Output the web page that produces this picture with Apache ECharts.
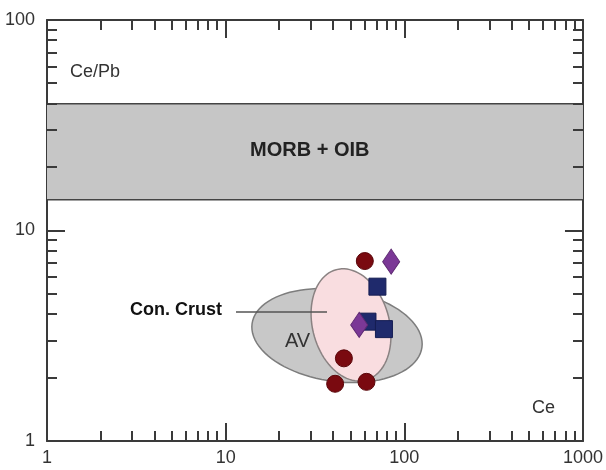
<!DOCTYPE html>
<html>
<head>
<meta charset="utf-8">
<script src="https://cdn.jsdelivr.net/npm/echarts@6/dist/echarts.min.js"></script>
<style>
  html, body { margin: 0; padding: 0; background: #fff; }
  #chart { width: 606px; height: 470px; }
</style>
</head>
<body>
<div id="chart"></div>
<script>
// Ce vs Ce/Pb, both on log scales
const xRange = [1, 1000];
const yRange = [1, 100];

// Sample groups: [Ce, Ce/Pb]
const circleSamples  = [[60.1, 7.16], [45.9, 2.47], [41.0, 1.87], [61.4, 1.91]];
const squareSamples  = [[70.7, 5.41], [62.2, 3.69], [76.9, 3.40]];
const diamondSamples = [[84.4, 7.11], [55.9, 3.56]];

// MORB + OIB field (Ce/Pb range)
const morbOibRange = [14, 40];

// Reference fields: centre [Ce, Ce/Pb]
const avCentre = [42.0, 3.17];
const crustCentre = [50.3, 3.56];

// Minor tick values on each axis
const minorX = [2,3,4,5,6,7,8,9,20,30,40,50,60,70,80,90,200,300,400,500,600,700,800,900];
const minorY = [2,3,4,5,6,7,8,9,20,30,40,50,60,70,80,90];

const FONT = '"Liberation Sans", Arial, Helvetica, sans-serif';
const AXIS_COLOR = '#3a3a3a';

const chart = echarts.init(document.getElementById('chart'), null, { renderer: 'canvas' });

function logAxis(pos, showLabel) {
  const horizontal = pos === 'top' || pos === 'bottom';
  return {
    type: 'log', logBase: 10, position: pos,
    min: horizontal ? xRange[0] : yRange[0],
    max: horizontal ? xRange[1] : yRange[1],
    axisLine: { show: true, onZero: false, lineStyle: { color: AXIS_COLOR, width: 2 } },
    axisTick: { show: true, inside: true, length: 18, lineStyle: { color: AXIS_COLOR, width: 2 } },
    axisLabel: {
      show: showLabel, color: '#333', fontSize: 18, fontFamily: FONT,
      margin: (pos === 'bottom') ? 8 : 12,
      formatter: function (v) { return String(Math.round(v)); }
    },
    splitLine: { show: false },
    minorTick: { show: false }
  };
}

// Ellipse outline in pixel space, semi-axes measured in x-axis decades
function ellipsePoints(api, centre, a, b, angleDeg) {
  const c = api.coord(centre);
  const dec = api.coord([10, 1])[0] - api.coord([1, 1])[0];
  const ra = a * dec, rb = b * dec;
  const phi = angleDeg * Math.PI / 180;
  const pts = [];
  for (let k = 0; k < 90; k++) {
    const t = k / 90 * Math.PI * 2;
    const dx = ra * Math.cos(t), dy = rb * Math.sin(t);
    pts.push([c[0] + dx * Math.cos(phi) - dy * Math.sin(phi),
              c[1] + dx * Math.sin(phi) + dy * Math.cos(phi)]);
  }
  return pts;
}

const option = {
  animation: false,
  backgroundColor: '#fff',
  grid: { left: 47, right: 16, top: 20, bottom: 29, containLabel: false },
  xAxis: [logAxis('bottom', true), logAxis('top', false)],
  yAxis: [logAxis('left', true), logAxis('right', false)],
  series: [
    {
      // MORB + OIB band
      type: 'custom', z: 1, silent: true,
      data: [[morbOibRange[0], morbOibRange[1]]],
      renderItem: function (params, api) {
        const cs = params.coordSys;
        const yTop = api.coord([xRange[0], api.value(1)])[1];
        const yBot = api.coord([xRange[0], api.value(0)])[1];
        return {
          type: 'group',
          children: [
            { type: 'rect', shape: { x: cs.x, y: yTop, width: cs.width, height: yBot - yTop },
              style: { fill: '#c6c6c6' } },
            { type: 'line', shape: { x1: cs.x, y1: yTop, x2: cs.x + cs.width, y2: yTop },
              style: { stroke: '#444', lineWidth: 1.5 } },
            { type: 'line', shape: { x1: cs.x, y1: yBot, x2: cs.x + cs.width, y2: yBot },
              style: { stroke: '#444', lineWidth: 1.5 } }
          ]
        };
      }
    },
    {
      // AV and continental crust fields
      type: 'custom', z: 2, silent: true,
      data: [[avCentre[0], avCentre[1], crustCentre[0], crustCentre[1]]],
      renderItem: function (params, api) {
        const av = ellipsePoints(api, [api.value(0), api.value(1)], 0.48, 0.257, 8);
        const cc = ellipsePoints(api, [api.value(2), api.value(3)], 0.32, 0.215, 75);
        return {
          type: 'group',
          children: [
            { type: 'polygon', shape: { points: av },
              style: { fill: '#c8c8c8', stroke: '#7d7d7d', lineWidth: 1.5 } },
            { type: 'polygon', shape: { points: cc },
              style: { fill: '#f9dde0', stroke: '#8a8282', lineWidth: 1.5 } }
          ]
        };
      }
    },
    {
      // Minor ticks on all four sides
      type: 'custom', z: 5, silent: true,
      data: [[1, 1]],
      renderItem: function (params, api) {
        const cs = params.coordSys;
        const len = 10;
        const kids = [];
        const st = { stroke: AXIS_COLOR, lineWidth: 2 };
        minorX.forEach(function (v) {
          const x = Math.round(api.coord([v, 1])[0]);
          kids.push({ type: 'line', shape: { x1: x, y1: cs.y + cs.height, x2: x, y2: cs.y + cs.height - len }, style: st });
          kids.push({ type: 'line', shape: { x1: x, y1: cs.y, x2: x, y2: cs.y + len }, style: st });
        });
        minorY.forEach(function (v) {
          const y = Math.round(api.coord([1, v])[1]);
          kids.push({ type: 'line', shape: { x1: cs.x, y1: y, x2: cs.x + len, y2: y }, style: st });
          kids.push({ type: 'line', shape: { x1: cs.x + cs.width, y1: y, x2: cs.x + cs.width - len, y2: y }, style: st });
        });
        return { type: 'group', children: kids };
      }
    },
    {
      name: 'squares', type: 'scatter', z: 6,
      symbol: 'rect', symbolSize: 17,
      itemStyle: { color: '#1f2a6c', borderColor: '#151d52', borderWidth: 1, opacity: 1 },
      data: squareSamples
    },
    {
      name: 'diamonds', type: 'scatter', z: 7,
      symbol: 'diamond', symbolSize: [17, 25],
      itemStyle: { color: '#7b3896', borderColor: '#5e2a72', borderWidth: 1, opacity: 1 },
      data: diamondSamples
    },
    {
      name: 'circles', type: 'scatter', z: 8,
      symbol: 'circle', symbolSize: 17,
      itemStyle: { color: '#7a0a10', borderColor: '#5a060a', borderWidth: 1, opacity: 1 },
      data: circleSamples
    }
  ],
  graphic: [
    { type: 'text', left: 70, top: 63, z: 10,
      style: { text: 'Ce/Pb', font: '18px ' + FONT, fill: '#333' } },
    { type: 'text', left: 532, top: 399, z: 10,
      style: { text: 'Ce', font: '18px ' + FONT, fill: '#333' } },
    { type: 'text', left: 250, top: 140, z: 10,
      style: { text: 'MORB + OIB', font: 'bold 20px ' + FONT, fill: '#222' } },
    { type: 'text', left: 285, top: 331, z: 10,
      style: { text: 'AV', font: '20px ' + FONT, fill: '#333' } },
    { type: 'text', left: 130, top: 301, z: 10,
      style: { text: 'Con. Crust', font: 'bold 18px ' + FONT, fill: '#111' } },
    { type: 'line', z: 10,
      shape: { x1: 236, y1: 312, x2: 327, y2: 312 },
      style: { stroke: '#555', lineWidth: 1.5 } }
  ]
};

chart.setOption(option);
</script>
</body>
</html>
